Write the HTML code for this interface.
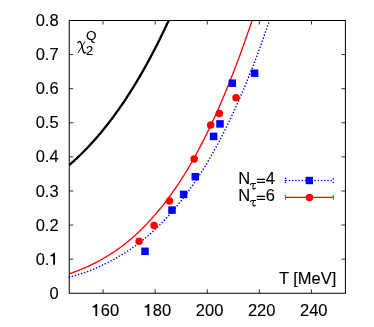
<!DOCTYPE html>
<html><head><meta charset="utf-8"><title>chart</title>
<style>html,body{margin:0;padding:0;background:#fff;}body{width:374px;height:327px;overflow:hidden;font-family:"Liberation Sans",sans-serif;}</style>
</head><body>
<svg width="374" height="327" viewBox="0 0 374 327" style="display:block;will-change:transform;opacity:0.999">
<rect width="374" height="327" fill="#fff"/>
<g font-family="Liberation Sans, sans-serif" font-size="16.5" fill="#000" stroke="#000" stroke-width="0.12">
<path d="M69.25,165.12 L70.25,164.25 L71.25,163.37 L72.25,162.48 L73.25,161.58 L74.25,160.66 L75.25,159.74 L76.25,158.81 L77.25,157.87 L78.25,156.92 L79.25,155.97 L80.25,155.00 L81.25,154.02 L82.25,153.03 L83.25,152.03 L84.25,151.02 L85.25,150.00 L86.25,148.97 L87.25,147.92 L88.25,146.87 L89.25,145.81 L90.25,144.74 L91.25,143.65 L92.25,142.56 L93.25,141.45 L94.25,140.33 L95.25,139.20 L96.25,138.06 L97.25,136.91 L98.25,135.75 L99.25,134.58 L100.25,133.39 L101.25,132.20 L102.25,130.99 L103.25,129.77 L104.25,128.53 L105.25,127.29 L106.25,126.03 L107.25,124.77 L108.25,123.48 L109.25,122.19 L110.25,120.89 L111.25,119.57 L112.25,118.24 L113.25,116.90 L114.25,115.54 L115.25,114.17 L116.25,112.79 L117.25,111.40 L118.25,109.99 L119.25,108.57 L120.25,107.14 L121.25,105.69 L122.25,104.23 L123.25,102.76 L124.25,101.27 L125.25,99.77 L126.25,98.26 L127.25,96.73 L128.25,95.19 L129.25,93.64 L130.25,92.07 L131.25,90.49 L132.25,88.89 L133.25,87.28 L134.25,85.65 L135.25,84.01 L136.25,82.36 L137.25,80.69 L138.25,79.01 L139.25,77.31 L140.25,75.60 L141.25,73.87 L142.25,72.13 L143.25,70.37 L144.25,68.60 L145.25,66.82 L146.25,65.01 L147.25,63.20 L148.25,61.36 L149.25,59.52 L150.25,57.65 L151.25,55.78 L152.25,53.88 L153.25,51.97 L154.25,50.05 L155.25,48.11 L156.25,46.15 L157.25,44.18 L158.25,42.19 L159.25,40.19 L160.25,38.17 L161.25,36.13 L162.25,34.08 L163.25,32.02 L164.25,29.93 L165.25,27.83 L166.25,25.72 L167.25,23.58 L168.25,21.44 L168.68,20.50" fill="none" stroke="#000" stroke-width="2.3"/>
<path d="M69.25,277.07 L70.25,276.82 L71.25,276.57 L72.25,276.32 L73.25,276.06 L74.25,275.79 L75.25,275.51 L76.25,275.23 L77.25,274.94 L78.25,274.64 L79.25,274.34 L80.25,274.02 L81.25,273.71 L82.25,273.38 L83.25,273.05 L84.25,272.71 L85.25,272.36 L86.25,272.00 L87.25,271.64 L88.25,271.27 L89.25,270.89 L90.25,270.50 L91.25,270.11 L92.25,269.71 L93.25,269.30 L94.25,268.88 L95.25,268.45 L96.25,268.02 L97.25,267.57 L98.25,267.13 L99.25,266.67 L100.25,266.21 L101.25,265.75 L102.25,265.28 L103.25,264.80 L104.25,264.32 L105.25,263.83 L106.25,263.33 L107.25,262.83 L108.25,262.32 L109.25,261.81 L110.25,261.29 L111.25,260.76 L112.25,260.23 L113.25,259.69 L114.25,259.14 L115.25,258.58 L116.25,258.02 L117.25,257.45 L118.25,256.88 L119.25,256.29 L120.25,255.70 L121.25,255.10 L122.25,254.50 L123.25,253.88 L124.25,253.26 L125.25,252.62 L126.25,251.98 L127.25,251.33 L128.25,250.68 L129.25,250.01 L130.25,249.34 L131.25,248.65 L132.25,247.96 L133.25,247.26 L134.25,246.55 L135.25,245.83 L136.25,245.10 L137.25,244.36 L138.25,243.61 L139.25,242.85 L140.25,242.08 L141.25,241.31 L142.25,240.52 L143.25,239.72 L144.25,238.91 L145.25,238.09 L146.25,237.26 L147.25,236.42 L148.25,235.57 L149.25,234.71 L150.25,233.83 L151.25,232.94 L152.25,232.04 L153.25,231.13 L154.25,230.21 L155.25,229.28 L156.25,228.33 L157.25,227.37 L158.25,226.40 L159.25,225.42 L160.25,224.42 L161.25,223.41 L162.25,222.39 L163.25,221.36 L164.25,220.31 L165.25,219.25 L166.25,218.18 L167.25,217.09 L168.25,215.99 L169.25,214.87 L170.25,213.75 L171.27,212.61 L172.28,211.45 L173.29,210.29 L174.30,209.10 L175.32,207.91 L176.33,206.70 L177.34,205.48 L178.36,204.25 L179.37,203.00 L180.38,201.73 L181.39,200.46 L182.41,199.16 L183.42,197.86 L184.43,196.54 L185.45,195.20 L186.46,193.85 L187.47,192.49 L188.48,191.11 L189.50,189.71 L190.51,188.30 L191.52,186.88 L192.54,185.44 L193.55,183.98 L194.56,182.51 L195.57,181.02 L196.59,179.52 L197.60,178.00 L198.61,176.46 L199.63,174.91 L200.64,173.34 L201.65,171.76 L202.66,170.15 L203.68,168.54 L204.69,166.90 L205.70,165.25 L206.70,163.58 L207.70,161.90 L208.70,160.19 L209.70,158.47 L210.70,156.74 L211.70,154.98 L212.70,153.21 L213.70,151.42 L214.70,149.61 L215.70,147.79 L216.70,145.94 L217.70,144.08 L218.70,142.20 L219.70,140.30 L220.70,138.39 L221.70,136.45 L222.70,134.50 L223.70,132.52 L224.70,130.53 L225.70,128.52 L226.70,126.49 L227.70,124.44 L228.70,122.37 L229.70,120.28 L230.70,118.18 L231.70,116.06 L232.70,113.91 L233.70,111.75 L234.70,109.57 L235.70,107.36 L236.70,105.14 L237.70,102.90 L238.70,100.63 L239.70,98.35 L240.70,96.04 L241.70,93.72 L242.70,91.37 L243.70,89.00 L244.70,86.62 L245.70,84.21 L246.70,81.78 L247.70,79.32 L248.70,76.85 L249.70,74.36 L250.70,71.84 L251.70,69.31 L252.70,66.75 L253.70,64.17 L254.70,61.57 L255.70,58.94 L256.70,56.30 L257.70,53.63 L258.70,50.94 L259.70,48.23 L260.70,45.50 L261.70,42.74 L262.70,39.96 L263.70,37.17 L264.70,34.34 L265.70,31.50 L266.70,28.63 L267.70,25.74 L268.70,22.83 L269.49,20.50" fill="none" stroke="#0000ff" stroke-width="1.6" stroke-linecap="round" stroke-dasharray="0.01 3.2"/>
<path d="M69.25,273.76 L70.25,273.43 L71.25,273.08 L72.25,272.74 L73.25,272.38 L74.25,272.03 L75.25,271.66 L76.25,271.29 L77.25,270.91 L78.25,270.52 L79.25,270.13 L80.25,269.73 L81.25,269.33 L82.25,268.92 L83.25,268.50 L84.25,268.07 L85.25,267.64 L86.25,267.20 L87.25,266.75 L88.25,266.30 L89.25,265.83 L90.25,265.36 L91.25,264.89 L92.25,264.40 L93.25,263.91 L94.25,263.41 L95.25,262.90 L96.25,262.38 L97.25,261.86 L98.25,261.32 L99.25,260.78 L100.25,260.24 L101.25,259.68 L102.25,259.12 L103.25,258.54 L104.25,257.96 L105.25,257.38 L106.25,256.78 L107.25,256.17 L108.25,255.56 L109.25,254.94 L110.25,254.31 L111.25,253.67 L112.25,253.02 L113.25,252.36 L114.25,251.69 L115.25,251.02 L116.25,250.33 L117.25,249.64 L118.25,248.93 L119.25,248.22 L120.25,247.49 L121.25,246.75 L122.25,246.01 L123.25,245.25 L124.25,244.48 L125.25,243.69 L126.25,242.90 L127.25,242.09 L128.25,241.28 L129.25,240.45 L130.25,239.61 L131.25,238.76 L132.25,237.89 L133.25,237.01 L134.25,236.13 L135.25,235.22 L136.25,234.31 L137.25,233.38 L138.25,232.44 L139.25,231.49 L140.25,230.52 L141.25,229.55 L142.25,228.55 L143.25,227.55 L144.25,226.53 L145.25,225.50 L146.25,224.46 L147.25,223.41 L148.25,222.34 L149.25,221.26 L150.25,220.17 L151.25,219.07 L152.25,217.95 L153.25,216.83 L154.25,215.69 L155.25,214.53 L156.25,213.37 L157.25,212.19 L158.25,210.99 L159.25,209.78 L160.25,208.56 L161.25,207.33 L162.25,206.08 L163.25,204.82 L164.25,203.54 L165.25,202.25 L166.25,200.95 L167.25,199.63 L168.25,198.30 L169.25,196.95 L170.25,195.59 L171.25,194.21 L172.25,192.82 L173.25,191.40 L174.25,189.98 L175.25,188.53 L176.25,187.07 L177.25,185.59 L178.25,184.09 L179.25,182.58 L180.25,181.04 L181.25,179.49 L182.25,177.93 L183.25,176.34 L184.25,174.73 L185.25,173.11 L186.25,171.47 L187.25,169.81 L188.25,168.13 L189.25,166.44 L190.25,164.72 L191.25,162.99 L192.25,161.23 L193.25,159.46 L194.25,157.67 L195.25,155.86 L196.25,154.03 L197.25,152.18 L198.25,150.31 L199.25,148.42 L200.25,146.52 L201.25,144.59 L202.25,142.65 L203.25,140.69 L204.25,138.71 L205.25,136.71 L206.25,134.69 L207.25,132.66 L208.25,130.60 L209.25,128.53 L210.25,126.43 L211.25,124.32 L212.25,122.19 L213.25,120.04 L214.25,117.87 L215.25,115.68 L216.25,113.46 L217.25,111.23 L218.25,108.98 L219.25,106.71 L220.25,104.42 L221.25,102.11 L222.25,99.78 L223.25,97.43 L224.25,95.06 L225.25,92.66 L226.25,90.25 L227.25,87.81 L228.25,85.36 L229.25,82.88 L230.25,80.39 L231.25,77.87 L232.25,75.32 L233.25,72.76 L234.25,70.17 L235.25,67.56 L236.25,64.93 L237.25,62.28 L238.25,59.61 L239.25,56.91 L240.25,54.19 L241.25,51.45 L242.25,48.69 L243.25,45.90 L244.25,43.09 L245.25,40.26 L246.25,37.41 L247.25,34.53 L248.25,31.63 L249.25,28.71 L250.25,25.76 L251.25,22.80 L252.02,20.50" fill="none" stroke="#ff0000" stroke-width="1.3"/>
<rect x="141.25" y="247.55" width="7.5" height="7.5" fill="#0000ff" stroke="none"/>
<rect x="168.25" y="206.35" width="7.5" height="7.5" fill="#0000ff" stroke="none"/>
<rect x="179.85" y="190.65" width="7.5" height="7.5" fill="#0000ff" stroke="none"/>
<rect x="191.55" y="172.95" width="7.5" height="7.5" fill="#0000ff" stroke="none"/>
<rect x="209.85" y="132.65" width="7.5" height="7.5" fill="#0000ff" stroke="none"/>
<rect x="216.25" y="120.15" width="7.5" height="7.5" fill="#0000ff" stroke="none"/>
<rect x="228.55" y="79.45" width="7.5" height="7.5" fill="#0000ff" stroke="none"/>
<rect x="250.85" y="69.45" width="7.5" height="7.5" fill="#0000ff" stroke="none"/>
<circle cx="139.1" cy="241.3" r="3.75" fill="#ff0000" stroke="none"/>
<circle cx="154.1" cy="225.55" r="3.75" fill="#ff0000" stroke="none"/>
<circle cx="169.5" cy="201.05" r="3.75" fill="#ff0000" stroke="none"/>
<circle cx="194.15" cy="159.0" r="3.75" fill="#ff0000" stroke="none"/>
<circle cx="210.7" cy="124.9" r="3.75" fill="#ff0000" stroke="none"/>
<circle cx="219.3" cy="113.6" r="3.75" fill="#ff0000" stroke="none"/>
<circle cx="236.1" cy="97.8" r="3.75" fill="#ff0000" stroke="none"/>
<path d="M103.05,293.25 v-4 M103.05,20.5 v4 M155.15,293.25 v-4 M155.15,20.5 v4 M207.25,293.25 v-4 M207.25,20.5 v4 M259.35,293.25 v-4 M259.35,20.5 v4 M311.45,293.25 v-4 M311.45,20.5 v4 M69.25,259.16 h4 M345.4,259.16 h-4 M69.25,225.06 h4 M345.4,225.06 h-4 M69.25,190.97 h4 M345.4,190.97 h-4 M69.25,156.88 h4 M345.4,156.88 h-4 M69.25,122.78 h4 M345.4,122.78 h-4 M69.25,88.69 h4 M345.4,88.69 h-4 M69.25,54.59 h4 M345.4,54.59 h-4" fill="none" stroke="#000" stroke-width="0.8"/>
<rect x="69.25" y="20.5" width="276.15" height="272.75" fill="none" stroke="#000" stroke-width="1"/>
<text x="49.43" y="298.85">0</text>
<text x="35.66" y="264.76">0.</text><path d="M50.53,256.16 L50.53,254.96 Q52.83,254.86 53.73,252.86 L55.03,252.86 L55.03,264.76 L53.23,264.76 L53.23,256.16 Z" fill="#000" stroke="none"/>
<text x="35.66" y="230.66">0.2</text>
<text x="35.66" y="196.57">0.3</text>
<text x="35.66" y="162.47">0.4</text>
<text x="35.66" y="128.38">0.5</text>
<text x="35.66" y="94.29">0.6</text>
<text x="35.66" y="60.19">0.7</text>
<text x="35.66" y="26.10">0.8</text>
<path d="M92.69,307.40 L92.69,306.20 Q94.99,306.10 95.89,304.10 L97.19,304.10 L97.19,316.00 L95.39,316.00 L95.39,307.40 Z" fill="#000" stroke="none"/><text x="100.76" y="316.00">60</text>
<path d="M144.79,307.40 L144.79,306.20 Q147.09,306.10 147.99,304.10 L149.29,304.10 L149.29,316.00 L147.49,316.00 L147.49,307.40 Z" fill="#000" stroke="none"/><text x="152.86" y="316.00">80</text>
<text x="195.79" y="316.00">200</text>
<text x="247.89" y="316.00">220</text>
<text x="299.99" y="316.00">240</text>
<text x="336.4" y="283.8" text-anchor="end">T [MeV]</text>
<path d="M77.7,43.4 Q78.3,41.3 79.6,41.3 Q80.7,41.3 81.2,43.4 L83.2,51.0 Q83.7,53.0 84.6,53.0 Q85.3,53.0 85.6,51.9" fill="none" stroke="#000" stroke-width="1.35" stroke-linecap="butt"/>
<path d="M85.1,41.3 L77.8,53.2" fill="none" stroke="#000" stroke-width="0.9"/>
<text x="86.1" y="55.0" font-size="13" stroke-width="0.1">2</text>
<text transform="translate(86.0,39.5) scale(1.09,1)" x="0" y="0" font-size="12.4" stroke-width="0.1">Q</text>
<text x="238.3" y="184.4">N</text>
<path d="M250.2,185.00 Q250.8,183.40 251.9,183.40 H256.0 M253.4,183.50 L252.9,187.50 Q252.8,189.10 254.0,189.00 Q255.0,188.90 255.5,187.70" fill="none" stroke="#000" stroke-width="1.05"/>
<path d="M256.9,179.30 h8.2 M256.9,182.40 h8.2" fill="none" stroke="#000" stroke-width="1.25"/>
<text x="265.7" y="184.4">4</text>
<text x="238.3" y="201.4">N</text>
<path d="M250.2,202.00 Q250.8,200.40 251.9,200.40 H256.0 M253.4,200.50 L252.9,204.50 Q252.8,206.10 254.0,206.00 Q255.0,205.90 255.5,204.70" fill="none" stroke="#000" stroke-width="1.05"/>
<path d="M256.9,196.30 h8.2 M256.9,199.40 h8.2" fill="none" stroke="#000" stroke-width="1.25"/>
<text x="265.7" y="201.4">6</text>
<path d="M286.25,180.5 H332" fill="none" stroke="#0000ff" stroke-width="1.6" stroke-linecap="round" stroke-dasharray="0.01 3.2"/>
<path d="M285.4,178.4 v4.5 M333.4,178.8 v0.1 M333.4,182.4 v0.1" fill="none" stroke="#0000ff" stroke-width="1.5" stroke-linecap="round" stroke-dasharray="0.01 2"/>
<rect x="305.65000000000003" y="176.8" width="7.4" height="7.4" fill="#0000ff" stroke="none"/>
<path d="M285.4,197.4 H333.4" fill="none" stroke="#ff0000" stroke-width="1.2"/>
<path d="M285.4,195.0 v4.8 M333.4,195.0 v4.8" fill="none" stroke="#ff0000" stroke-width="0.9"/>
<circle cx="309.5" cy="197.4" r="3.75" fill="#ff0000" stroke="none"/>
</g></svg>
</body></html>
